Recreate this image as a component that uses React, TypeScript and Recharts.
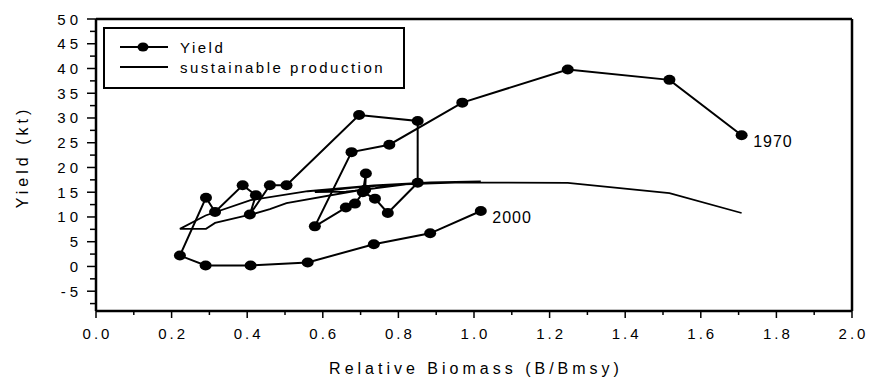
import { ScatterChart, Scatter, XAxis, YAxis, ReferenceLine, Legend, LabelList } from 'recharts'

// yearly series, 1970 -> 2000, in time order
const YEARS = [
  '1970', '1971', '1972', '1973', '1974', '1975', '1976', '1977', '1978', '1979', '1980',
  '1981', '1982', '1983', '1984', '1985', '1986', '1987', '1988', '1989', '1990',
  '1991', '1992', '1993', '1994', '1995', '1996', '1997', '1998', '1999', '2000',
]
const BIOMASS = [
  1.708, 1.517, 1.248, 0.969, 0.776, 0.676, 0.579, 0.661, 0.685, 0.712, 0.714,
  0.706, 0.738, 0.772, 0.851, 0.851, 0.696, 0.504, 0.46, 0.407, 0.423,
  0.388, 0.315, 0.291, 0.222, 0.29, 0.409, 0.56, 0.735, 0.884, 1.018,
]
const YIELD = [
  26.5, 37.7, 39.8, 33.1, 24.6, 23.1, 8.1, 11.9, 12.7, 15.5, 18.8,
  15.0, 13.7, 10.8, 16.9, 29.4, 30.6, 16.4, 16.4, 10.5, 14.4,
  16.4, 11.0, 13.9, 2.2, 0.2, 0.2, 0.8, 4.5, 6.7, 11.2,
]
const SUSTAINABLE = [
  10.8, 14.8, 16.9, 17.0, 16.5, 15.9, 15.0, 15.1, 15.3, 15.6, 15.6,
  15.5, 15.8, 16.2, 16.9, 16.9, 15.4, 12.8, 11.6, 10.4, 10.7,
  10.1, 8.8, 7.6, 7.6, 10.3, 13.4, 15.2, 16.4, 17.0, 17.2,
]

const X_TICKS = [0, 0.1, 0.2, 0.3, 0.4, 0.5, 0.6, 0.7, 0.8, 0.9, 1.0, 1.1, 1.2, 1.3, 1.4, 1.5, 1.6, 1.7, 1.8, 1.9, 2.0]
const Y_TICKS = [-7.5, -5, -2.5, 0, 2.5, 5, 7.5, 10, 12.5, 15, 17.5, 20, 22.5, 25, 27.5, 30, 32.5, 35, 37.5, 40, 42.5, 45, 47.5, 50]

const yieldData = BIOMASS.map((b, i) => ({
  b,
  y: YIELD[i],
  year: i === 0 || i === YEARS.length - 1 ? YEARS[i] : '',
}))
const sustainableData = BIOMASS.map((b, i) => ({ b, y: SUSTAINABLE[i] }))

const W = 870
const H = 385
const PLOT_LEFT = 96
const PLOT_BOTTOM = 311
const FONT = '"Liberation Sans", Arial, sans-serif'

function XTick({ x, payload }: any) {
  const major = Math.round(payload.value * 10) % 2 === 0
  return (
    <g>
      <line x1={x} x2={x} y1={PLOT_BOTTOM} y2={PLOT_BOTTOM + (major ? 7 : 4)} stroke="#000" strokeWidth={1.5} />
      {major && (
        <text x={x + 1.5} y={PLOT_BOTTOM + 22} textAnchor="middle" dominantBaseline="central"
          fontFamily={FONT} fontSize={15} letterSpacing={3} fill="#000">
          {payload.value.toFixed(1)}
        </text>
      )}
    </g>
  )
}

function YTick({ y, payload }: any) {
  const major = payload.value % 5 === 0
  return (
    <g>
      <line x1={PLOT_LEFT - (major ? 9 : 6)} x2={PLOT_LEFT} y1={y} y2={y} stroke="#000" strokeWidth={1.5} />
      {major && (
        <text x={PLOT_LEFT - 14} y={y} textAnchor="end" dominantBaseline="central"
          fontFamily={FONT} fontSize={15} letterSpacing={4} fill="#000">
          {payload.value}
        </text>
      )}
    </g>
  )
}

function Dot({ cx, cy }: any) {
  return <ellipse cx={cx} cy={cy} rx={6} ry={5} fill="#000" />
}

function YearLabel({ x, y, width, height, value }: any) {
  if (!value) return null
  return (
    <text x={x + width + 7} y={y + height / 2 + 6} dominantBaseline="central"
      fontFamily={FONT} fontSize={16} letterSpacing={1} fill="#000">
      {value}
    </text>
  )
}

function LegendBox({ payload }: any) {
  return (
    <div style={{ padding: '8px 0 0 15px', fontFamily: FONT, fontSize: 15, letterSpacing: 2.5 }}>
      {(payload || []).map((entry: any) => (
        <div key={entry.value} style={{ display: 'flex', alignItems: 'center', height: 20 }}>
          <svg width={60} height={14} style={{ flex: 'none' }}>
            <line x1={0} x2={48} y1={7} y2={7} stroke="#000" strokeWidth={2} />
            {entry.type === 'line' && <ellipse cx={23} cy={7} rx={5.5} ry={4.5} fill="#000" />}
          </svg>
          <span>{entry.value}</span>
        </div>
      ))}
    </div>
  )
}

export default function App() {
  return (
    <div style={{ position: 'absolute', left: 0, top: 0, background: '#fff' }}>
      <ScatterChart width={W} height={H} margin={{ top: 19, right: 18, bottom: 0, left: 0 }}>
        <XAxis type="number" dataKey="b" domain={[0, 2]} ticks={X_TICKS} interval={0} height={74}
          axisLine={{ stroke: '#000', strokeWidth: 2.5 }} tickLine={false} tick={<XTick />}
          label={{
            content: ({ viewBox }: any) => (
              <text x={viewBox.x + viewBox.width / 2 + 2} y={viewBox.y + 57} textAnchor="middle" dominantBaseline="central"
                fontFamily={FONT} fontSize={16} letterSpacing={4} fill="#000">
                Relative Biomass (B/Bmsy)
              </text>
            ),
          }} />
        <YAxis type="number" dataKey="y" domain={[-9, 50]} ticks={Y_TICKS} interval={0} width={PLOT_LEFT}
          allowDataOverflow axisLine={{ stroke: '#000', strokeWidth: 2.5 }} tickLine={false} tick={<YTick />}
          label={{
            content: ({ viewBox }: any) => {
              const cx = 22
              const cy = viewBox.y + viewBox.height / 2 - 8
              return (
                <text x={cx} y={cy} transform={`rotate(-90 ${cx} ${cy})`} textAnchor="middle" dominantBaseline="central"
                  fontFamily={FONT} fontSize={16} letterSpacing={4} fill="#000">
                  Yield (kt)
                </text>
              )
            },
          }} />
        <ReferenceLine y={50} stroke="#000" strokeWidth={2.5} />
        <ReferenceLine x={2} stroke="#000" strokeWidth={2.5} />
        <Legend layout="horizontal" verticalAlign="middle" align="center" content={<LegendBox />}
          wrapperStyle={{ left: 103, top: 27, width: 302, height: 62, border: '2px solid #000', boxSizing: 'border-box', background: '#fff' }} />
        <Scatter name="Yield" data={yieldData} fill="#000" legendType="line" shape={<Dot />}
          line={{ strokeWidth: 2 }} lineType="joint" isAnimationActive={false}>
          <LabelList dataKey="year" content={<YearLabel />} />
        </Scatter>
        <Scatter name="sustainable production" data={sustainableData} fill="#000" legendType="plainline"
          shape={() => <g />} line={{ strokeWidth: 1.8 }} lineType="joint" isAnimationActive={false} />
      </ScatterChart>
    </div>
  )
}
